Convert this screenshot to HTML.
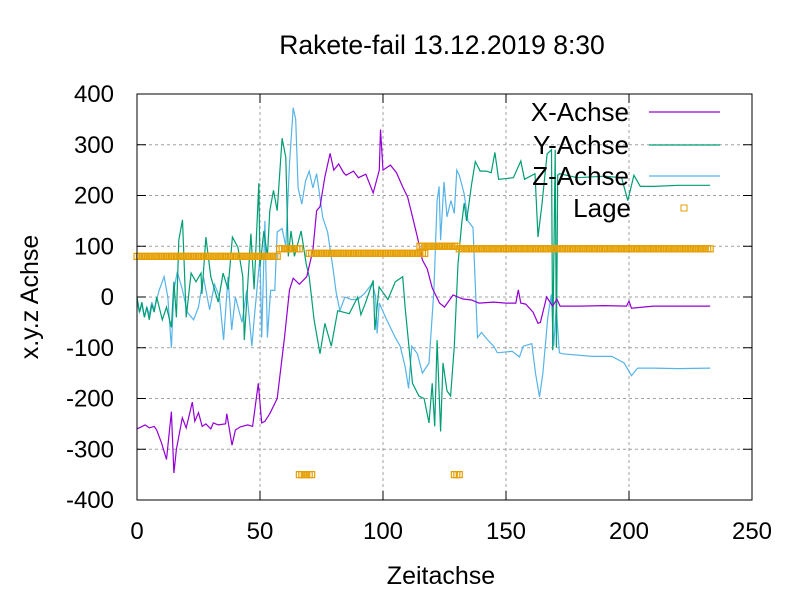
<!DOCTYPE html>
<html><head><meta charset="utf-8">
<style>
html,body{margin:0;padding:0;background:#fff;}
svg text{font-family:"Liberation Sans",sans-serif;fill:#000;}
</style></head>
<body>
<svg id="chart" width="800" height="600" xmlns="http://www.w3.org/2000/svg">
<rect width="800" height="600" fill="#fff"/>
<text x="442" y="54" font-size="26.5" text-anchor="middle">Rakete-fail 13.12.2019 8:30</text>
<g id="grid"></g>
<g id="ticks"></g>
<g id="series"></g>
<rect x="137" y="94" width="615" height="406" fill="none" stroke="#000" stroke-width="1"/>
<text x="441" y="584" font-size="25" text-anchor="middle">Zeitachse</text>
<text transform="translate(38,297) rotate(-90)" font-size="25" text-anchor="middle">x.y.z Achse</text>
<g id="legend"></g>
</svg>
<script>
const xTicks=[0,50,100,150,200,250];
const yTicks=[-400,-300,-200,-100,0,100,200,300,400];
const xaX=[0,3.3,5,7,8,10,12,14,15,16,18.4,20,22.5,23.5,25,26.5,28,30,31,33,36,36.5,38.6,40,42,45,47,49.3,50.7,52,54,57,60,62,63.5,66,69,71.5,73,74.4,76.4,78.5,80,82,84,85,88,90,93,96,98.5,99,100,103,105.5,108,110,112,114,116,118,120,123,125,128.5,132.5,136,139,145,150,154,155,156,158,161,163,164,166.5,169,170.7,172,180,190,199,200,201,210,220,233];
const xaV=[-260,-252,-258,-255,-262,-288,-320,-226,-347,-300,-238,-258,-207,-245,-228,-255,-250,-260,-248,-252,-250,-230,-292,-262,-256,-252,-255,-170,-248,-245,-230,-200,-78,14,37,25,40,92,170,178,237,283,250,262,245,240,248,235,242,205,250,330,250,260,245,217,197,158,118,73,55,18,-12,-20,4,-4,-6,-12,-10,-12,-12,14,-12,-14,-30,-52,-50,0,-18,-4,-18,-18,-17,-18,-8,-22,-18,-18,-18];
const yaX=[0,1,2,3,4,5,6,7,8,10.3,12,14,15,16,17,18.5,20,22,24,26,26.4,28,30,33,35,37,38.8,41,43,43.6,46.3,47.6,49.5,50,51.6,53,54,55.5,57,58,59,60.5,61.5,62.6,64,66.7,68.8,70,72,74.4,76.4,79,81.6,86.3,89.7,91,93,96,96.7,98.4,102,105,108,109,112,114.6,116.7,118.7,120,121,122,123.4,124.4,126,127.5,129,130.5,132,133,134,136,137.5,139.5,142,144,145.5,147,153,156,157.5,161.8,163,164.5,166.7,168.5,169,170,170.5,171,171.7,179,190,197,199.5,202,204.6,210,220,233];
const yaV=[0,-30,-10,-40,-20,-45,-15,-30,0,-45,-20,-60,30,-40,112,152,-40,47,30,47,6,118,40,-10,47,15,118,98,40,-85,125,15,224,60,130,80,170,210,170,243,313,275,80,130,80,130,65,40,-45,-112,-52,-97,-27,-33,0,-35,-10,33,-65,20,-5,30,40,-20,-170,-195,-200,-248,-170,-255,-85,-265,-130,-185,-195,-97,65,145,185,150,222,267,248,248,245,285,232,235,268,232,243,118,178,282,290,-105,290,-100,240,243,235,238,235,190,240,218,218,220,220];
const zaX=[0,1,2,3,4,5,6,7,9,11,12.5,14,15,16.4,18.5,20.5,23,25,27,29.5,31.5,33.5,35.2,37,38.5,40,42.7,44.6,46.7,47.6,50,50.7,52,53,54.3,56,57,59,60.5,62,63.5,64.5,65.5,67,68.5,70,71.5,73,74,75.5,77.5,79.7,81,82.5,84.5,87,89.7,92.5,95.7,97,97.6,98.5,101,105,107,109,110.4,111.7,114,116,118.7,120.7,122,122.8,123.4,124.8,126,127.6,129,130,131,133,134.5,136.6,137.3,138.4,140,142.6,145,146.5,152.5,155.5,157,160.5,162,163.6,165,167,168.4,169.4,170.4,171.7,173,185,193,198,201,203.5,210,220,233];
const zaV=[-10,-30,-15,-40,-20,-35,-10,-25,13,40,0,-100,13,50,13,-30,-45,-20,40,-25,25,0,-85,40,-65,0,-50,13,-97,-45,80,-80,150,-80,13,13,128,135,100,262,373,350,215,183,228,248,215,243,210,157,128,55,7,-27,0,-5,-5,7,27,0,-72,-12,-40,-80,-97,-137,-180,-97,-112,-150,-130,13,190,218,112,227,158,190,165,250,240,203,150,137,48,-80,-70,-85,-97,-110,-107,-118,-97,-92,-150,-197,-150,-40,5,-97,-20,-110,-112,-117,-117,-130,-155,-140,-140,-141,-140];
const lageStart=[0,58,70,115,131,66,129];
const lageEnd=[57,66,117,130,233,71,131];
const lageVal=[80,95,86,100,95,-350,-350];

const xS=v=>137+v*615/250;
const yS=v=>297-v*406/800;
const NS="http://www.w3.org/2000/svg";
function mk(tag,attrs,parent){const e=document.createElementNS(NS,tag);for(const k in attrs)e.setAttribute(k,attrs[k]);parent.appendChild(e);return e;}
const grid=document.getElementById('grid'),ticks=document.getElementById('ticks'),ser=document.getElementById('series'),leg=document.getElementById('legend');
yTicks.forEach(t=>{
  const y=yS(t);
  if(t>-400&&t<400){const g=mk('line',{x1:137,x2:752,y1:y,y2:y,stroke:'#a0a0a0','stroke-dasharray':'3,3'},grid);
  
  }
  mk('line',{x1:137,x2:146,y1:y,y2:y,stroke:'#000'},ticks);
  mk('line',{x1:743,x2:752,y1:y,y2:y,stroke:'#000'},ticks);
  const tx=mk('text',{x:114,y:y+8,'font-size':24,'text-anchor':'end'},ticks);tx.textContent=t;
  
  
});
xTicks.forEach(t=>{
  const x=xS(t);
  if(t>0&&t<250){const g=mk('line',{x1:x,x2:x,y1:94,y2:500,stroke:'#a0a0a0','stroke-dasharray':'3,3'},grid);
  
  }
  mk('line',{x1:x,x2:x,y1:491,y2:500,stroke:'#000'},ticks);
  mk('line',{x1:x,x2:x,y1:94,y2:103,stroke:'#000'},ticks);
  const tx=mk('text',{x:x,y:539,'font-size':24,'text-anchor':'middle'},ticks);tx.textContent=t;
  
  
});
function line(xs,vs,color,name){
  const d=xs.map((x,i)=>(i?'L':'M')+xS(x).toFixed(1)+','+yS(vs[i]).toFixed(1)).join('');
  const p=mk('path',{d:d,fill:'none',stroke:color,'stroke-width':1.2},ser);
  
  
}
line(zaX,zaV,'#56b4e9','z-achse-line');
line(yaX,yaV,'#009e73','y-achse-line');
line(xaX,xaV,'#9400d3','x-achse-line');
lageStart.forEach((s,i)=>{
  for(let x=s;x<=lageEnd[i];x++){
    const r=mk('rect',{x:xS(x)-3,y:yS(lageVal[i])-3,width:6,height:6,fill:'none',stroke:'#e69f00','stroke-width':1.2},ser);
    
    
  }
});
const legItems=[['X-Achse','#9400d3',112],['Y-Achse','#009e73',145],['Z-Achse','#56b4e9',176]];
legItems.forEach(it=>{
  const t=mk('text',{x:629,y:it[2]+9,'font-size':26,'text-anchor':'end'},leg);t.textContent=it[0];
  
  
  const l=mk('line',{x1:649,x2:720,y1:it[2],y2:it[2],stroke:it[1],'stroke-width':1.2},leg);
  
  
});
const lt=mk('text',{x:631,y:217,'font-size':26,'text-anchor':'end'},leg);lt.textContent='Lage';


const lr=mk('rect',{x:681,y:205,width:6,height:6,fill:'none',stroke:'#e69f00','stroke-width':1},leg);


</script>
</body></html>
